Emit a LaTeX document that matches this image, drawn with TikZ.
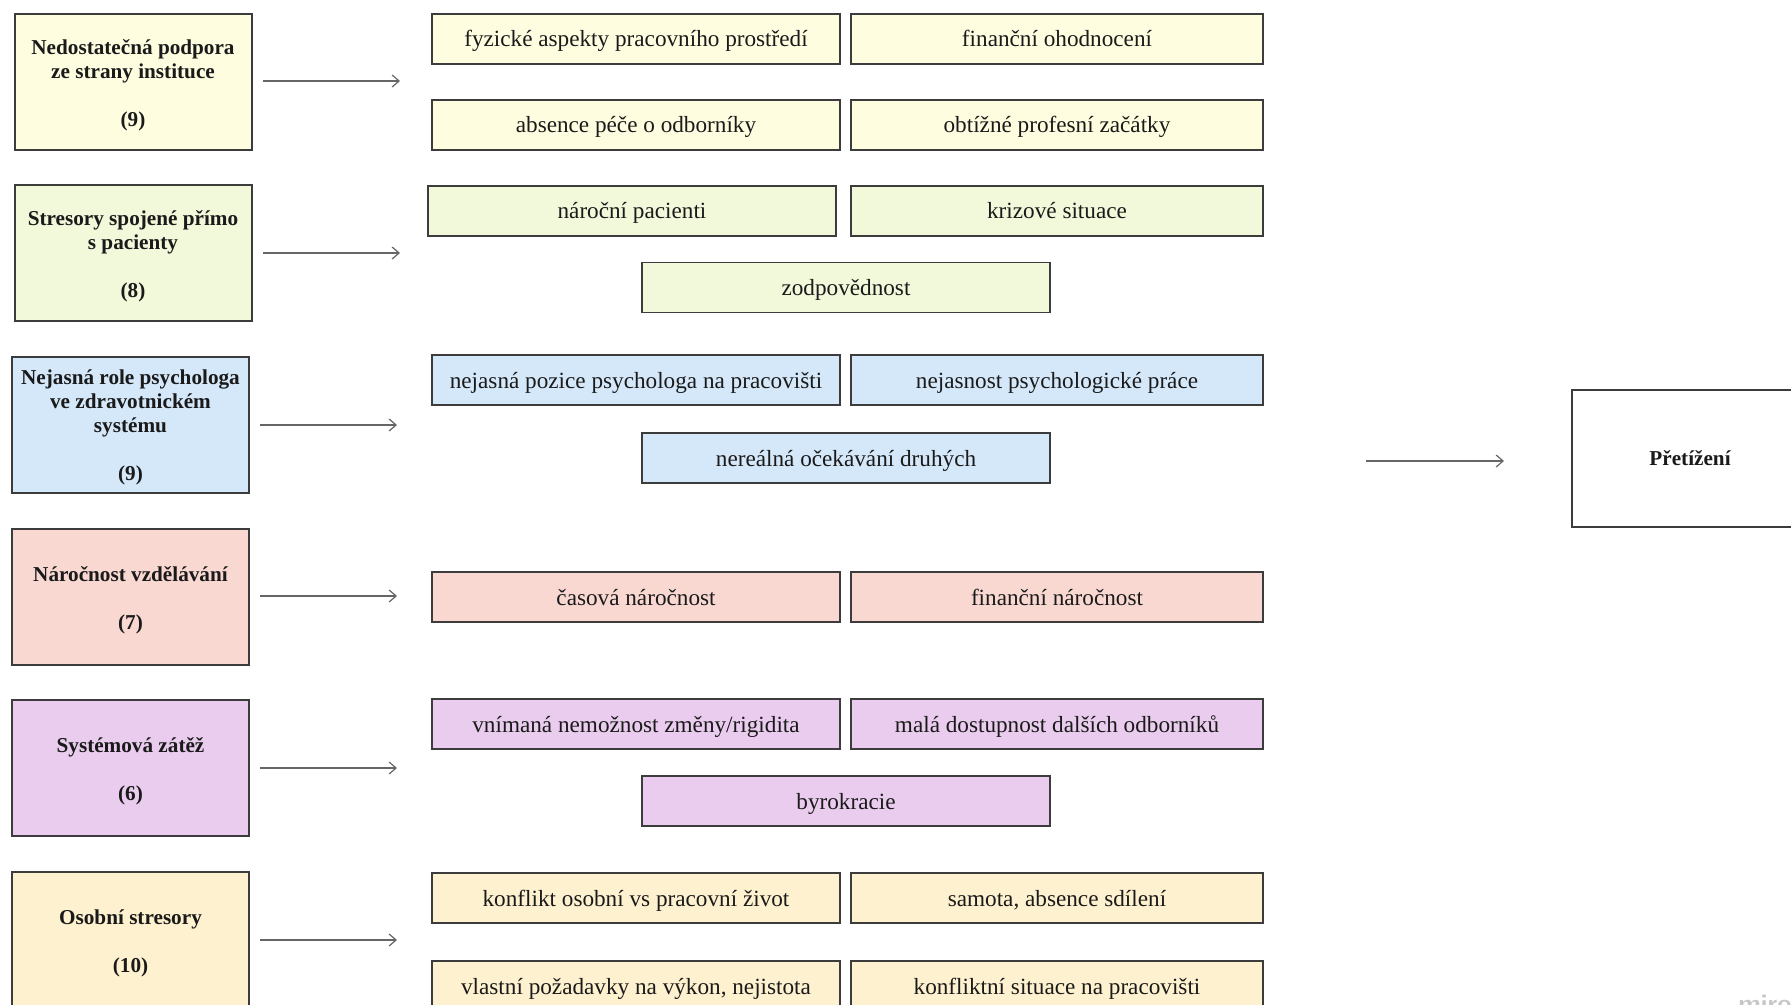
\documentclass[tikz,border=0pt]{standalone}
\usepackage{fontspec}
\setmainfont{Liberation Serif}
\usetikzlibrary{arrows.meta}
\definecolor{cA}{HTML}{FFFDE0}
\definecolor{cB}{HTML}{F2F8DA}
\definecolor{cC}{HTML}{D5E8F9}
\definecolor{cD}{HTML}{F9D8D2}
\definecolor{cE}{HTML}{EACDEE}
\definecolor{cF}{HTML}{FEF1CF}
\definecolor{bordc}{HTML}{3C3C3C}
\definecolor{arrc}{HTML}{666666}
\definecolor{txtc}{HTML}{1A1A1A}
\newcommand{\mycattext}[1]{\raisebox{-1.7pt}[\height][\depth]{\begin{tabular}{@{}c@{}}#1\end{tabular}}}
\begin{document}
\begin{tikzpicture}[x=0.5pt,y=-0.5pt,
  cat/.style={draw=bordc, line width=1pt, minimum width=118.5pt, minimum height=68pt,
    inner sep=0pt, text=txtc,
    font=\fontsize{10.6pt}{12pt}\selectfont\bfseries},
  sub/.style={draw=bordc, line width=0.9pt, minimum width=204pt, minimum height=25pt,
    inner sep=0pt, text=txtc, text height=8pt, text depth=0pt,
    font=\fontsize{11.6pt}{13pt}\selectfont},
  subr/.style={sub, minimum width=206pt},
  arr/.style={draw=arrc, line width=0.6pt, -{Straight Barb[length=3.5pt,width=6pt]}}]
\useasboundingbox (0,0) rectangle (1791,1005);
\clip (0,0) rectangle (1791,1005);
\fill[white] (0,0) rectangle (1791,1005);

% category boxes
\node[cat, fill=cA] (l1) at (133,82) {\mycattext{Nedostatečná podpora\\ze strany instituce\\[12pt](9)}};
\node[cat, fill=cB] (l2) at (133,253) {\mycattext{Stresory spojené přímo\\s pacienty\\[12pt](8)}};
\node[cat, fill=cC] (l3) at (130.5,424.5) {\mycattext{Nejasná role psychologa\\ve zdravotnickém\\systému\\[12pt](9)}};
\node[cat, fill=cD] (l4) at (130.5,597) {\mycattext{Náročnost vzdělávání\\[12pt](7)}};
\node[cat, fill=cE] (l5) at (130.5,768) {\mycattext{Systémová zátěž\\[12pt](6)}};
\node[cat, fill=cF] (l6) at (130.5,940) {\mycattext{Osobní stresory\\[12pt](10)}};

% arrows
\coordinate (a1s) at (263,81);  \coordinate (a1e) at (400,81);
\coordinate (a2s) at (263,253); \coordinate (a2e) at (400,253);
\coordinate (a3s) at (260,425); \coordinate (a3e) at (397,425);
\coordinate (a4s) at (260,596); \coordinate (a4e) at (397,596);
\coordinate (a5s) at (260,768); \coordinate (a5e) at (397,768);
\coordinate (a6s) at (260,940); \coordinate (a6e) at (397,940);
\coordinate (a7s) at (1366,461); \coordinate (a7e) at (1504,461);
\foreach \i in {1,...,7} {\draw[arr] (a\i s) -- (a\i e);}

% row 1
\node[sub, fill=cA] (s11) at (636,39) {fyzické aspekty pracovního prostředí};
\node[subr, fill=cA] (s12) at (1057,39) {finanční ohodnocení};
\node[sub, fill=cA] (s13) at (636,125) {absence péče o odborníky};
\node[subr, fill=cA] (s14) at (1057,125) {obtížné profesní začátky};
% row 2
\node[sub, fill=cB] (s21) at (632,211) {nároční pacienti};
\node[subr, fill=cB] (s22) at (1057,211) {krizové situace};
\node[sub, fill=cB] (s23) at (846,287.5) {zodpovědnost};
% row 3
\node[sub, fill=cC] (s31) at (636,380) {nejasná pozice psychologa na pracovišti};
\node[subr, fill=cC] (s32) at (1057,380) {nejasnost psychologické práce};
\node[sub, fill=cC] (s33) at (846,458) {nereálná očekávání druhých};
% row 4
\node[sub, fill=cD] (s41) at (636,597) {časová náročnost};
\node[subr, fill=cD] (s42) at (1057,597) {finanční náročnost};
% row 5
\node[sub, fill=cE] (s51) at (636,724) {vnímaná nemožnost změny/rigidita};
\node[subr, fill=cE] (s52) at (1057,724) {malá dostupnost dalších odborníků};
\node[sub, fill=cE] (s53) at (846,801) {byrokracie};
% row 6
\node[sub, fill=cF] (s61) at (636,898) {konflikt osobní vs pracovní život};
\node[subr, fill=cF] (s62) at (1057,898) {samota, absence sdílení};
\node[sub, fill=cF] (s63) at (636,986) {vlastní požadavky na výkon, nejistota};
\node[subr, fill=cF] (s64) at (1057,986) {konfliktní situace na pracovišti};

% outcome
\node[draw=bordc, line width=1pt, fill=white, minimum width=118pt, minimum height=68.5pt,
  inner sep=0pt, text=txtc, font=\fontsize{10.6pt}{12pt}\selectfont\bfseries] (out) at (1690,458.5) {Přetížení};

% watermark
\node[anchor=north west, inner sep=0pt, text=black!22,
  font=\fontsize{13pt}{13pt}\selectfont\sffamily\bfseries] (wm) at (1738,995) {miro};
\end{tikzpicture}
\end{document}
